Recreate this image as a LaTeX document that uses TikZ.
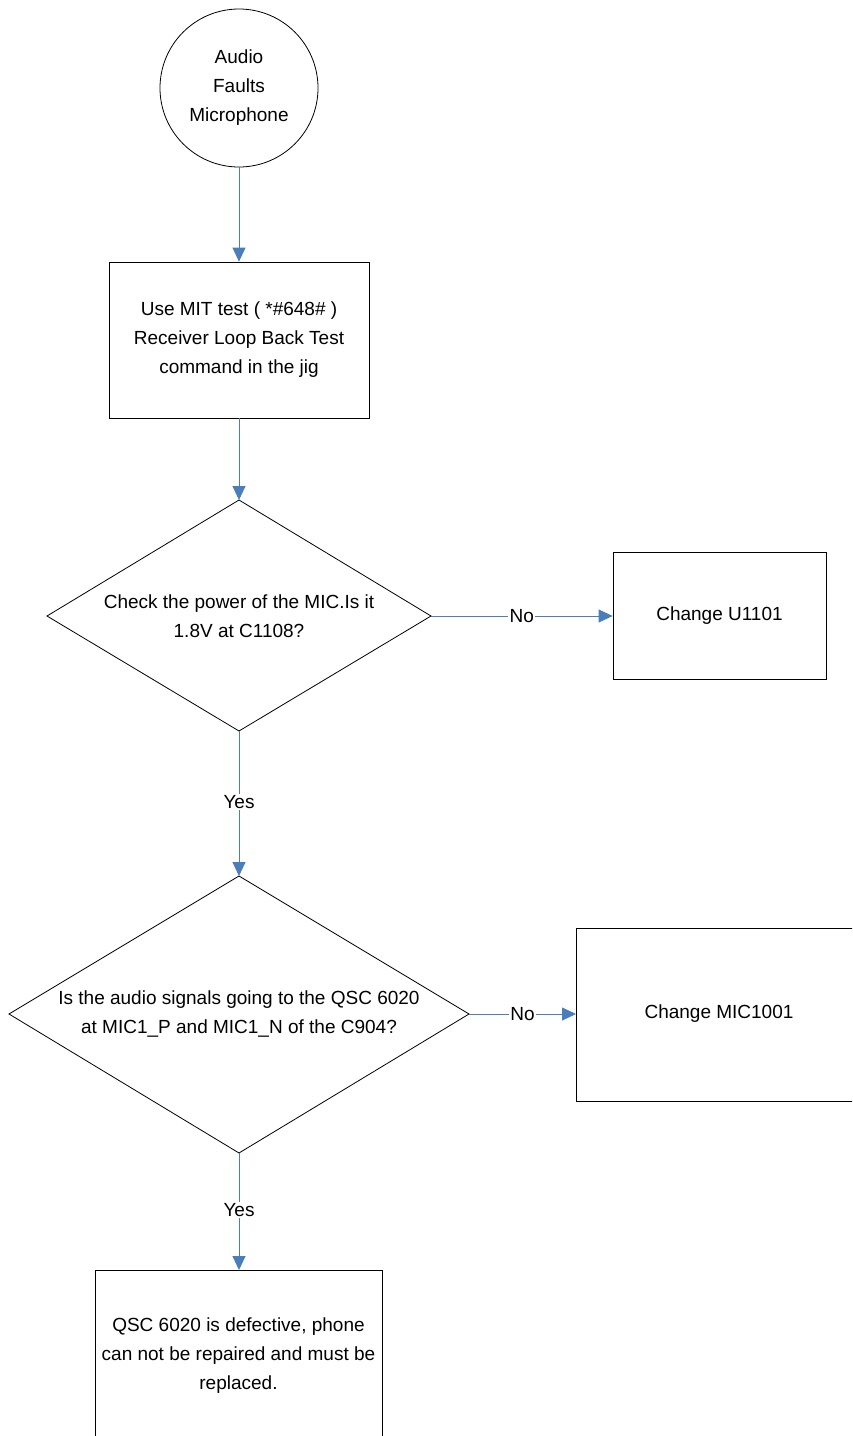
\documentclass[tikz,border=0pt]{standalone}
\usepackage{fontspec}
\setmainfont{Liberation Sans}
\usetikzlibrary{arrows.meta,shapes.geometric}
\definecolor{arrowblue}{HTML}{4A7EBB}
\begin{document}
\begin{tikzpicture}[x=1pt,y=-1pt,
  every node/.style={font=\fontsize{19}{29}\selectfont, align=center, inner sep=0pt},
  outline/.style={draw=black, line width=0.8pt},
  conn/.style={draw=arrowblue, line width=0.9pt, -{Triangle[length=14pt,width=13pt]}},
  lbl/.style={fill=white, inner sep=1.5pt}]
\useasboundingbox (0,0) rectangle (852,1436);
\clip (0,0) rectangle (852,1436);
\fill[white] (0,0) rectangle (852,1436);
% start circle
\node[outline, circle, minimum size=158pt] (start) at (239,88) {Audio\\Faults\\Microphone};
% box 1
\node[outline, rectangle, minimum width=260pt, minimum height=156pt] (mit) at (239,340) {Use MIT test ( *\#648\# )\\Receiver Loop Back Test\\command in the jig};
% diamond 1
\draw[outline] (239,500) coordinate (d1t) -- (431,616) coordinate (d1r) -- (239,731) coordinate (d1b) -- (47,616) -- cycle;
\node (d1text) at (239,616) {Check the power of the MIC.Is it\\1.8V at C1108?};
% box U1101
\node[outline, rectangle, minimum width=213pt, minimum height=127pt] (u1101) at (719.5,616) {Change U1101};
% diamond 2
\draw[outline] (239,876) coordinate (d2t) -- (469,1014) coordinate (d2r) -- (239,1153) coordinate (d2b) -- (9,1014) -- cycle;
\node (d2text) at (239,1014) {Is the audio signals going to the QSC 6020\\at MIC1\_P and MIC1\_N of the C904?};
% box MIC1001
\draw[outline] (576,928) -- (860,928) -- (860,1101) -- (576,1101) -- cycle;
\coordinate (micL) at (576,1014);
\node (mic) at (719,1014) {Change MIC1001};
% bottom box
\draw[outline] (95,1445) -- (95,1270) -- (382,1270) -- (382,1445);
\coordinate (qscT) at (239,1270);
\node (qsc) at (238.5,1356) {QSC 6020 is defective, phone\\can not be repaired and must be\\replaced.};
% connectors
\draw[conn] (start.south) -- (mit.north);
\draw[conn] (mit.south) -- (d1t);
\draw[conn] (d1r) -- node[lbl, pos=0.5] (no1) {No} (d1r -| u1101.west);
\draw[conn] (d1b) -- node[lbl, pos=0.49] (yes1) {Yes} (d2t);
\draw[conn] (d2r) -- node[lbl, pos=0.5] (no2) {No} (micL);
\draw[conn] (d2b) -- node[lbl, pos=0.49] (yes2) {Yes} (qscT);
\end{tikzpicture}
\end{document}
